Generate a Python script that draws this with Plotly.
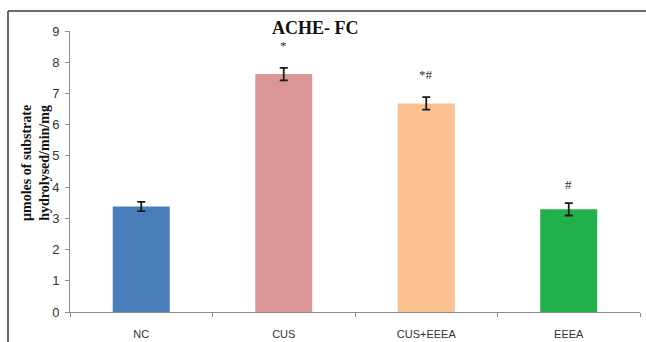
import plotly.graph_objects as go

categories = ["NC", "CUS", "CUS+EEEA", "EEEA"]
values = [3.38, 7.62, 6.68, 3.29]
errors = [0.15, 0.2, 0.2, 0.2]
markers = ["", "*", "*#", "#"]
colors = ["#4a7ebb", "#d99694", "#fac090", "#21b04b"]
yticks = [0, 1, 2, 3, 4, 5, 6, 7, 8, 9]

W, H = 646, 342
L, R, T, B = 70, 6, 31, 30
pw, ph = W - L - R, H - T - B

def px(x):
    return (x - L) / pw

def py(y):
    return (H - B - y) / ph

fig = go.Figure()
fig.add_trace(go.Bar(
    x=categories, y=values, width=0.4,
    marker=dict(color=colors, line=dict(width=0)),
    error_y=dict(type="data", array=errors, visible=True, color="#1a1a1a", thickness=1.8, width=4),
    showlegend=False,
))

annotations = []
shifts = [0, 13, 13, 9]
for c, v, e, m, s in zip(categories, values, errors, markers, shifts):
    if m:
        annotations.append(dict(x=c, y=v + e, xref="x", yref="y", text=m, showarrow=False,
                                yanchor="bottom", yshift=s,
                                font=dict(family="Liberation Serif", size=13, color="#333")))

annotations.append(dict(x=px(315), y=py(28), xref="paper", yref="paper", text="<b>ACHE- FC</b>",
                        showarrow=False, xanchor="center", yanchor="middle",
                        font=dict(family="Liberation Serif", size=18, color="#111")))
annotations.append(dict(x=px(35), y=py(163), xref="paper", yref="paper",
                        text="<b>µmoles of substrate<br>hydrolysed/min/mg</b>", textangle=-90,
                        showarrow=False, xanchor="center", yanchor="middle",
                        font=dict(family="Liberation Serif", size=14, color="#111")))

shapes = [
    dict(type="line", xref="paper", yref="paper", x0=px(8), x1=px(646), y0=py(11), y1=py(11),
         line=dict(color="#3a3a3a", width=1.5)),
    dict(type="line", xref="paper", yref="paper", x0=px(8), x1=px(8), y0=py(11), y1=py(342),
         line=dict(color="#3a3a3a", width=1.5)),
]

fig.update_layout(
    width=W, height=H,
    margin=dict(l=L, r=R, t=T, b=B, autoexpand=False),
    paper_bgcolor="white", plot_bgcolor="white",
    annotations=annotations, shapes=shapes,
    bargap=0.6,
)
fig.update_xaxes(
    automargin=False,
    showline=True, linecolor="#8c8c8c", linewidth=1,
    ticks="outside", tickson="boundaries", ticklen=4, tickcolor="#8c8c8c",
    tickfont=dict(family="Liberation Sans", size=11, color="#333"),
    ticklabelstandoff=12, showgrid=False,
)
fig.update_yaxes(
    automargin=False,
    range=[0, 9], tickvals=yticks, showline=True, linecolor="#8c8c8c", linewidth=1,
    ticks="outside", ticklen=4, tickcolor="#8c8c8c",
    tickfont=dict(family="Liberation Sans", size=13, color="#333"),
    ticklabelstandoff=3,
    showgrid=False, zeroline=False,
)

fig.write_html("out.html", config={"displayModeBar": False},
               post_script="document.body.style.margin='0';document.body.style.overflow='hidden';")
